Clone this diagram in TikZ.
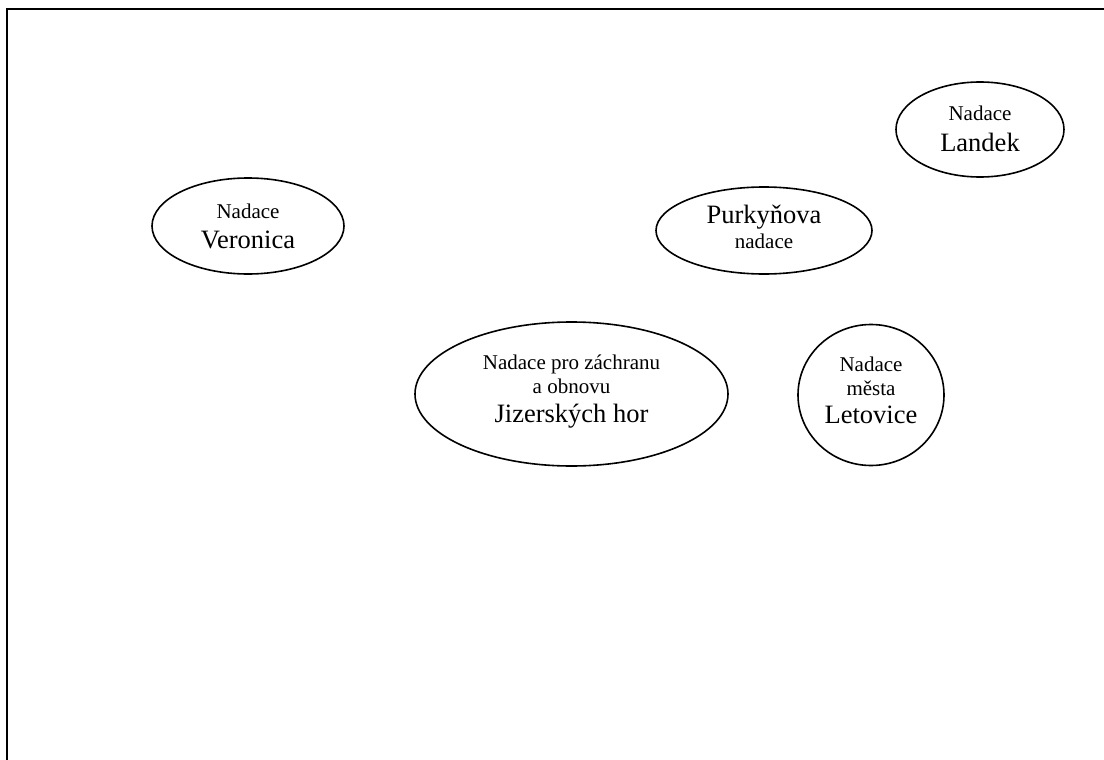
\documentclass[tikz,border=0pt]{standalone}
\usepackage{fontspec}
\setmainfont{Liberation Serif}
\usetikzlibrary{shapes.geometric}
\tikzset{
  org/.style={draw=black, line width=1.6pt, ellipse, inner sep=0pt},
  small/.style={anchor=base, inner sep=0pt, font=\fontsize{21}{24}\selectfont},
  big/.style={anchor=base, inner sep=0pt, font=\fontsize{26.5}{30}\selectfont},
}
\begin{document}
\begin{tikzpicture}[x=1pt, y=-1pt]
\useasboundingbox (0,0) rectangle (1104,760);
\coordinate (ftr) at (1104,9);
\coordinate (ftl) at (7,9);
\coordinate (fbl) at (7,760);
\draw[line width=2pt] (ftr) -- (ftl) -- (fbl);

% Veronica
\node[org, minimum width=192pt, minimum height=96pt] (veronica) at (248,226) {};
\node[small] (veronica1) at (248,218) {Nadace};
\node[big] (veronica2) at (248,248) {Veronica};

% Purkynova
\node[org, minimum width=216pt, minimum height=87pt] (purkyne) at (764,230.5) {};
\node[big] (purkyne1) at (764,223) {Purkyňova};
\node[small] (purkyne2) at (764,248) {nadace};

% Landek
\node[org, minimum width=168pt, minimum height=95pt] (landek) at (980,129.5) {};
\node[small] (landek1) at (980,121) {Nadace};
\node[big] (landek2) at (980,151) {Landek};

% Jizerske hory
\node[org, minimum width=313pt, minimum height=144pt] (jizera) at (571.5,394) {};
\node[small] (jizera1) at (571.5,369) {Nadace pro záchranu};
\node[small] (jizera2) at (571.5,393) {a obnovu};
\node[big] (jizera3) at (571.5,422.5) {Jizerských hor};

% Letovice
\node[org, minimum width=146pt, minimum height=141pt] (letovice) at (871,395) {};
\node[small] (letovice1) at (871,371) {Nadace};
\node[small] (letovice2) at (871,395) {města};
\node[big] (letovice3) at (871,423) {Letovice};
\end{tikzpicture}
\end{document}
